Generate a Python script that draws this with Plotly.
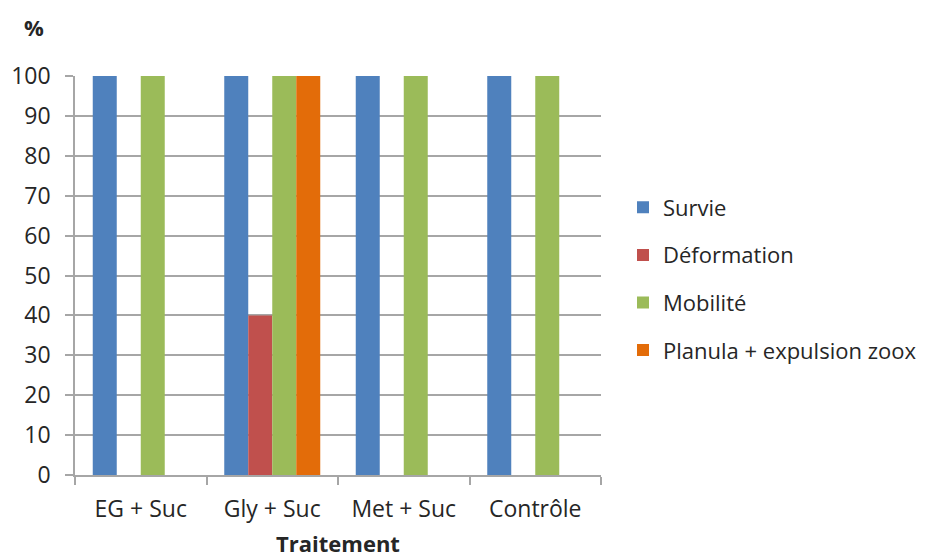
import plotly.graph_objects as go

categories = ["EG + Suc", "Gly + Suc", "Met + Suc", "Contrôle"]
series_names = ["Survie", "Déformation", "Mobilité", "Planula + expulsion zoox"]
survie = [100, 100, 100, 100]
deformation = [0, 40, 0, 0]
mobilite = [100, 100, 100, 100]
planula = [0, 100, 0, 0]
colors = ["#4F81BD", "#C0504D", "#9BBB59", "#E36C09"]
y_ticks = list(range(0, 101, 10))

W, H = 926, 558
L, T = 75, 76
R = W - 601
B = H - 475
pw = W - L - R
ph = H - T - B

def px(x):
    return (x - L) / pw

def py(y):
    return (H - B - y) / ph

font_family = "'Open Sans', sans-serif"
fig = go.Figure()
for i, (name, vals) in enumerate(zip(series_names, [survie, deformation, mobilite, planula])):
    fig.add_trace(go.Bar(
        x=categories, y=vals, name=name,
        marker=dict(color=colors[i], line=dict(width=0)),
        legendgroup=f"g{i}",
    ))

fig.update_layout(
    width=W, height=H,
    margin=dict(l=L, r=R, t=T, b=B, autoexpand=False),
    paper_bgcolor="white", plot_bgcolor="white",
    barmode="group", bargap=0.27, bargroupgap=0,
    font=dict(family=font_family, size=23, color="#262626"),
    legend=dict(
        xref="container", yref="container",
        x=623 / W, xanchor="left", y=1 - 279 / H, yanchor="middle",
        traceorder="grouped", tracegroupgap=16,
        font=dict(size=22, color="#262626"),
    ),
    showlegend=True,
    xaxis=dict(
        showline=True, linecolor="#A6A6A6", linewidth=1.5,
        ticks="outside", tickson="boundaries", ticklen=8, tickcolor="#A6A6A6", tickwidth=1.5,
        showgrid=False, ticklabelstandoff=13,
    ),
    yaxis=dict(
        range=[0, 100], tickvals=y_ticks,
        showline=True, linecolor="#A6A6A6", linewidth=1.5,
        ticks="outside", ticklen=8, tickcolor="#A6A6A6", tickwidth=1.5,
        showgrid=True, gridcolor="#A6A6A6", gridwidth=1.5,
        zeroline=False, ticklabelstandoff=10,
    ),
    annotations=[
        dict(text="<b>%</b>", x=px(34), y=py(27), xref="paper", yref="paper", showarrow=False,
             font=dict(size=22), xanchor="center", yanchor="middle"),
        dict(text="<b>Traitement</b>", x=px(338), y=py(543), xref="paper", yref="paper", showarrow=False,
             font=dict(size=22), xanchor="center", yanchor="middle"),
    ],
)
fig.write_html("out.html", config={"displayModeBar": False},
               post_script="document.body.style.margin='0';document.body.style.overflow='hidden';")
